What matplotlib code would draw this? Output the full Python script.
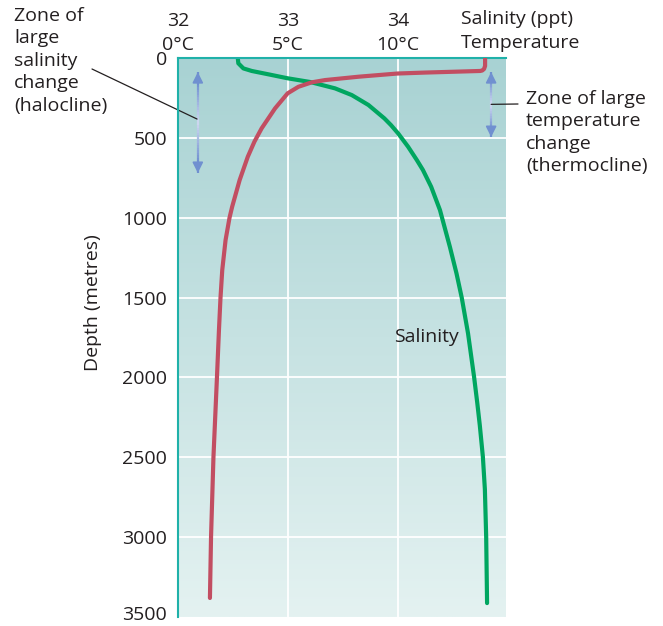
import numpy as np
import matplotlib
matplotlib.use("Agg")
import matplotlib.pyplot as plt
from matplotlib.colors import LinearSegmentedColormap, to_rgb
from matplotlib.collections import LineCollection
from matplotlib.transforms import ScaledTranslation

plt.rcParams["font.family"] = ["Open Sans", "DejaVu Sans"]

# salinity profile (ppt) against depth (m)
sal_depth = [0, 33, 65, 81, 102, 127, 150, 190, 232, 294, 378, 420, 472,
             555, 639, 701, 806, 952, 1182, 1348, 1501, 1724, 1997, 2160,
             2300, 2498, 2700, 3000, 3413]
salinity = [32.543, 32.548, 32.594, 32.670, 32.821, 32.997, 33.20, 33.427,
            33.579, 33.730, 33.875, 33.935, 34.00, 34.09, 34.17, 34.225,
            34.30, 34.38, 34.47, 34.53, 34.578, 34.635, 34.69, 34.719,
            34.742, 34.770, 34.788, 34.800, 34.808]

# temperature profile (deg C) against depth (m)
temp_depth = [0, 50, 69, 78, 81, 91, 97, 117, 138, 152, 180, 221, 315, 440,
              524, 618, 764, 931, 1000, 1140, 1327, 1501, 1703, 1997, 2498,
              2999, 3381]
temperature = [13.95, 13.95, 13.9, 13.82, 13.73, 11.23, 9.97, 8.20, 6.68,
               6.08, 5.47, 4.98, 4.41, 3.80, 3.47, 3.17, 2.80, 2.46, 2.34,
               2.16, 2.01, 1.93, 1.86, 1.77, 1.61, 1.50, 1.45]

sal_ticks = [32, 33, 34]
temp_ticks = [0, 5, 10]
temp_ticklabels = ["0°C", "5°C", "10°C"]
depth_ticks = [0, 500, 1000, 1500, 2000, 2500, 3000, 3500]

fs = 14
txt = "#231f20"
teal = "#1fb1a9"
green = "#00a660"
red = "#c24e62"
arrow_col = "#7090d0"

fig = plt.figure(figsize=(6.63, 6.26), dpi=100)
ax = fig.add_axes([0.2685, 0.0144, 0.4947, 0.8929])
ax.set_xlim(32, 34.98)
ax.set_ylim(3500, 0)

# temperature axis shares the depth scale
axt = ax.twiny()
axt.set_xlim(0, 14.9)
axt.set_ylim(3500, 0)

# gradient background
cmap = LinearSegmentedColormap.from_list("bg", ["#a8d2d3", "#c6e2e2", "#e4f2f1"])
ax.imshow(np.linspace(0, 1, 256).reshape(-1, 1), cmap=cmap, aspect="auto",
          extent=[32, 34.98, 3500, 0], zorder=0)

# grid
for d in depth_ticks[1:-1]:
    ax.axhline(d, color="white", lw=1.3, zorder=1)
for s in sal_ticks[1:]:
    ax.axvline(s, color="white", lw=1.3, zorder=1)

for side in ["right", "bottom"]:
    ax.spines[side].set_visible(False)
for side in ["left", "top"]:
    ax.spines[side].set_color(teal)
    ax.spines[side].set_linewidth(1.5)
    ax.spines[side].set_zorder(5)
for sp in axt.spines.values():
    sp.set_visible(False)

ax.set_yticks(depth_ticks)
ax.set_yticklabels([str(d) for d in depth_ticks], fontsize=fs, color=txt)
ax.tick_params(axis="y", length=0, pad=8)
# keep the last depth label inside the canvas
last = ax.get_yticklabels()[-1]
last.set_transform(last.get_transform() + ScaledTranslation(0, 3 / 72, fig.dpi_scale_trans))

ax.xaxis.set_ticks_position("top")
ax.xaxis.set_label_position("top")
ax.set_xticks(sal_ticks)
ax.set_xticklabels([str(s) for s in sal_ticks], fontsize=fs, color=txt)
ax.tick_params(axis="x", length=0, pad=20, labeltop=True, labelbottom=False)

axt.set_xticks(temp_ticks)
axt.set_xticklabels(temp_ticklabels, fontsize=fs, color=txt)
axt.tick_params(axis="x", length=0, pad=3)

ax.set_ylabel("Depth (metres)", fontsize=fs, color=txt)
ax.yaxis.set_label_coords(-0.232, 0.562)

ax.plot(salinity, sal_depth, color=green, lw=3.0, solid_capstyle="round",
        solid_joinstyle="round", zorder=4)
axt.plot(temperature, temp_depth, color=red, lw=3.0, solid_capstyle="round",
         solid_joinstyle="round", zorder=4)

ax.text(33.96, 1747, "Salinity", fontsize=fs, color=txt, ha="left", va="center")


def double_arrow(x, y0, y1):
    mid = (y0 + y1) / 2
    dark = np.array(to_rgb(arrow_col))
    light = np.array(to_rgb("#cfd8f0"))
    ys = np.linspace(y0, y1, 41)
    segs = [[(x, ys[i]), (x, ys[i + 1])] for i in range(len(ys) - 1)]
    cols = []
    for i in range(len(ys) - 1):
        t = abs((ys[i] + ys[i + 1]) / 2 - mid) / ((y1 - y0) / 2)
        cols.append(light + (dark - light) * min(1, t * 1.3))
    ax.add_collection(LineCollection(segs, colors=cols, lw=1.6, zorder=3))
    for end in (y0, y1):
        ax.annotate("", xy=(x, end), xytext=(x, end + (mid - end) * 0.2),
                    arrowprops=dict(arrowstyle="-|>", color=arrow_col, lw=1.2,
                                    mutation_scale=16, shrinkA=0, shrinkB=0),
                    zorder=3)


double_arrow(32.18, 88, 720)
double_arrow(34.845, 88, 495)

# leader lines
ax.annotate("", xy=(32.173, 382), xycoords="data",
            xytext=(92 / 663, 1 - 69 / 626), textcoords="figure fraction",
            arrowprops=dict(arrowstyle="-", color=txt, lw=0.9,
                            shrinkA=0, shrinkB=0))
ax.annotate("", xy=(34.845, 290), xycoords="data",
            xytext=(518 / 663, 1 - 104 / 626), textcoords="figure fraction",
            arrowprops=dict(arrowstyle="-", color=txt, lw=0.9,
                            shrinkA=0, shrinkB=0))

fig.text(14 / 663, 1 - 7 / 626, "Zone of\nlarge\nsalinity\nchange\n(halocline)",
         fontsize=fs, color=txt, ha="left", va="top", linespacing=1.32)
fig.text(526 / 663, 1 - 90 / 626,
         "Zone of large\ntemperature\nchange\n(thermocline)",
         fontsize=fs, color=txt, ha="left", va="top", linespacing=1.32)
fig.text(461 / 663, 1 - 19 / 626, "Salinity (ppt)", fontsize=fs,
         color=txt, ha="left", va="center")
fig.text(461 / 663, 1 - 43 / 626, "Temperature", fontsize=fs,
         color=txt, ha="left", va="center")

fig.savefig("out.png", dpi=100)
